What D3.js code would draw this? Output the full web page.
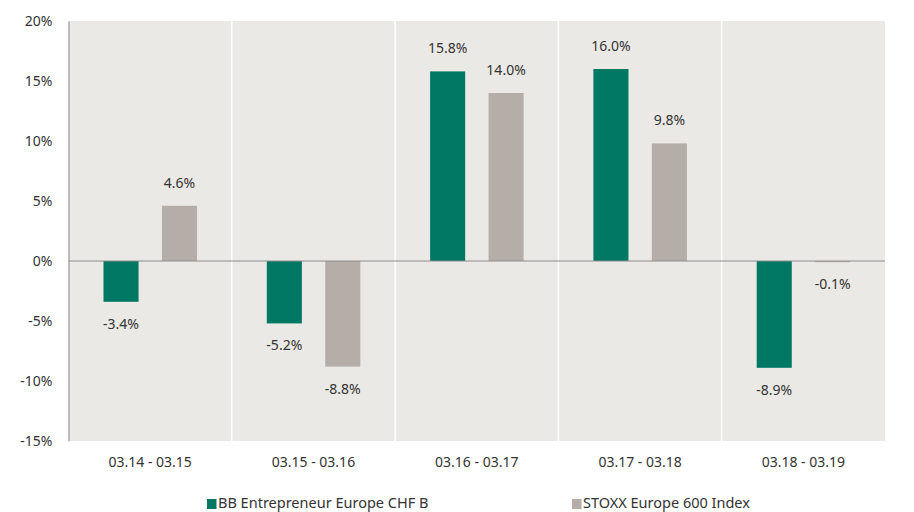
<!DOCTYPE html>
<html><head><meta charset="utf-8">
<script src="https://cdn.jsdelivr.net/npm/d3@7"></script>
<style>body{margin:0;background:#fff}svg{display:block}text{font-family:"Noto Sans",sans-serif;fill:#333}</style>
</head><body><svg id="c" width="914" height="512"></svg>
<script>
const categories = ["03.14 - 03.15","03.15 - 03.16","03.16 - 03.17","03.17 - 03.18","03.18 - 03.19"];
const seriesNames = ["BB Entrepreneur Europe CHF B","STOXX Europe 600 Index"];
const fundValues = [-3.4,-5.2,15.8,16.0,-8.9];
const indexValues = [4.6,-8.8,14.0,9.8,-0.1];
const yTicks = [-15,-10,-5,0,5,10,15,20];
const colors = ["#007864","#b5ada7"];

const svg = d3.select("#c");
const m = {l:68.5, r:885, t:21, b:441};
const x = d3.scaleBand().domain(categories).range([m.l,m.r]);
const bw = x.bandwidth();
const x1 = d3.scaleBand().domain(seriesNames).range([bw*0.2143, bw*0.787]).paddingInner(0.4);
const y = d3.scaleLinear().domain([-15,20]).range([m.b,m.t]);

svg.append("rect").attr("x",m.l).attr("y",m.t).attr("width",m.r-m.l).attr("height",m.b-m.t).attr("fill","#ebe9e5");
// separators
svg.selectAll(".sep").data(categories.slice(1)).enter().append("line")
  .attr("x1",d=>x(d)).attr("x2",d=>x(d)).attr("y1",m.t).attr("y2",m.b)
  .attr("stroke","#fff").attr("stroke-width",1.5);

const series = [fundValues, indexValues];
series.forEach((vals,si)=>{
  const g = svg.append("g");
  g.selectAll("rect").data(vals).enter().append("rect")
    .attr("x",(d,i)=>x(categories[i])+x1(seriesNames[si]))
    .attr("width",x1.bandwidth())
    .attr("y",d=>y(Math.max(0,d)))
    .attr("height",d=>Math.abs(y(d)-y(0)))
    .attr("fill",colors[si]);
  g.selectAll("text").data(vals).enter().append("text")
    .attr("x",(d,i)=>x(categories[i])+x1(seriesNames[si])+x1.bandwidth()/2)
    .attr("y",d=>d>=0 ? y(d)-18 : y(d)+27)
    .attr("text-anchor","middle").attr("font-size",14)
    .text(d=>d.toFixed(1)+"%");
});

// zero line
svg.append("line").attr("x1",m.l).attr("x2",m.r).attr("y1",y(0)).attr("y2",y(0)).attr("stroke","#8c8c8c").attr("stroke-width",1);

// y axis
const ya = svg.append("g").attr("transform",`translate(${m.l},0)`)
  .call(d3.axisLeft(y).tickValues(yTicks).tickSize(0).tickPadding(16).tickFormat(d=>d+"%"));
ya.select(".domain").attr("stroke","#8c8c8c");
ya.selectAll("text").attr("font-size",14).attr("font-family","Noto Sans").attr("fill","#333");

// x axis labels
const xa = svg.append("g").attr("transform",`translate(0,${m.b})`)
  .call(d3.axisBottom(x).tickSize(0).tickPadding(16));
xa.select(".domain").remove();
xa.selectAll("text").attr("font-size",14).attr("font-family","Noto Sans").attr("fill","#333");

// legend
const legX = [207,572];
seriesNames.forEach((n,i)=>{
  svg.append("rect").attr("x",legX[i]).attr("y",499).attr("width",9.5).attr("height",10).attr("fill",colors[i]);
  svg.append("text").attr("x",legX[i]+11).attr("y",507.5).attr("font-size",14.5).text(n);
});
</script></body></html>
